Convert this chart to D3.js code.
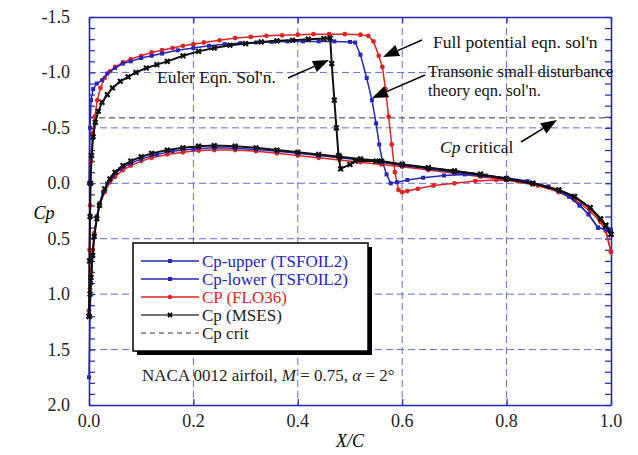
<!DOCTYPE html>
<html>
<head>
<meta charset="utf-8">
<script src="https://cdn.jsdelivr.net/npm/d3@7"></script>
<style>
  body { margin: 0; background: #fff; }
  text { font-family: "Liberation Serif", "Times New Roman", serif; }
</style>
</head>
<body>
<script>
const w = 638;
const h = 455;

// axis ticks
const xTicks = [0.0, 0.2, 0.4, 0.6, 0.8, 1.0];
const yTicks = [-1.5, -1.0, -0.5, 0.0, 0.5, 1.0, 1.5, 2.0];
const cpCrit = -0.59;

// TSFOIL2 upper surface [x/c, Cp]
const tsUpper = [[0.0, 0.0], [0.002, -0.5], [0.004, -0.75], [0.008, -0.85], [0.015, -0.9], [0.025, -0.93],
  [0.035, -0.99], [0.05, -1.04], [0.065, -1.08], [0.08, -1.1], [0.1, -1.13], [0.12, -1.15], [0.14, -1.17],
  [0.17, -1.2], [0.2, -1.22], [0.23, -1.24], [0.26, -1.255], [0.29, -1.265], [0.32, -1.27], [0.35, -1.275],
  [0.38, -1.28], [0.41, -1.28], [0.44, -1.28], [0.47, -1.28], [0.5, -1.275], [0.51, -1.27], [0.52, -1.16],
  [0.532, -0.95], [0.542, -0.75], [0.55, -0.54], [0.556, -0.35], [0.562, -0.2], [0.57, -0.08], [0.578, 0.0],
  [0.59, -0.01], [0.61, -0.03], [0.64, -0.05], [0.68, -0.07], [0.72, -0.08], [0.76, -0.07], [0.8, -0.05],
  [0.84, -0.02], [0.88, 0.03], [0.92, 0.12], [0.94, 0.2], [0.957, 0.28], [0.975, 0.4], [0.992, 0.42], [1.0, 0.42]];

// TSFOIL2 lower surface
const tsLower = [[0.0, 1.75], [0.002, 1.2], [0.004, 0.9], [0.007, 0.65], [0.01, 0.48], [0.015, 0.3],
  [0.02, 0.18], [0.027, 0.08], [0.035, 0.0], [0.045, -0.06], [0.06, -0.13], [0.08, -0.18], [0.1, -0.22],
  [0.13, -0.26], [0.16, -0.29], [0.2, -0.31], [0.24, -0.32], [0.28, -0.315], [0.32, -0.305], [0.36, -0.29],
  [0.4, -0.27], [0.44, -0.25], [0.48, -0.23], [0.52, -0.21], [0.56, -0.19], [0.6, -0.16], [0.65, -0.13],
  [0.7, -0.1], [0.75, -0.07], [0.8, -0.04], [0.84, -0.01], [0.88, 0.03], [0.92, 0.12], [0.94, 0.2],
  [0.957, 0.28], [0.975, 0.4], [0.992, 0.42], [1.0, 0.42]];

// FLO36 upper and lower
const floUpper = [[0.0, 1.15], [0.001, 0.6], [0.002, 0.2], [0.004, -0.2], [0.007, -0.45], [0.011, -0.6],
  [0.016, -0.75], [0.022, -0.86], [0.03, -0.95], [0.04, -1.01], [0.05, -1.05], [0.065, -1.09], [0.08, -1.12],
  [0.1, -1.15], [0.12, -1.18], [0.14, -1.2], [0.16, -1.22], [0.18, -1.24], [0.2, -1.255], [0.22, -1.27],
  [0.25, -1.29], [0.28, -1.31], [0.31, -1.32], [0.34, -1.33], [0.37, -1.335], [0.4, -1.34], [0.43, -1.345],
  [0.46, -1.345], [0.49, -1.345], [0.52, -1.34], [0.535, -1.33], [0.545, -1.28], [0.555, -1.15],
  [0.562, -1.05], [0.568, -0.85], [0.574, -0.6], [0.58, -0.35], [0.586, -0.1], [0.593, 0.06], [0.6, 0.08],
  [0.61, 0.07], [0.63, 0.05], [0.66, 0.02], [0.7, 0.0], [0.74, -0.02], [0.78, -0.03], [0.82, -0.02],
  [0.86, 0.02], [0.9, 0.08], [0.93, 0.15], [0.96, 0.25], [0.98, 0.35], [0.99, 0.43], [1.0, 0.62]];

const floLower = [[0.0, 1.15], [0.002, 0.95], [0.004, 0.8], [0.007, 0.6], [0.01, 0.45], [0.015, 0.3],
  [0.02, 0.2], [0.03, 0.08], [0.04, -0.01], [0.05, -0.06], [0.065, -0.12], [0.08, -0.16], [0.1, -0.2],
  [0.12, -0.23], [0.15, -0.26], [0.18, -0.28], [0.21, -0.295], [0.24, -0.3], [0.28, -0.3], [0.32, -0.29],
  [0.36, -0.27], [0.4, -0.25], [0.44, -0.23], [0.48, -0.21], [0.52, -0.19], [0.56, -0.17], [0.6, -0.15],
  [0.65, -0.12], [0.7, -0.09], [0.75, -0.06], [0.8, -0.03], [0.85, 0.01], [0.9, 0.07], [0.93, 0.13],
  [0.96, 0.23], [0.98, 0.33], [0.99, 0.42], [1.0, 0.62]];

// MSES upper and lower
const msesUpper = [[0.0, 1.2], [0.001, 0.7], [0.002, 0.3], [0.003, 0.0], [0.005, -0.25], [0.008, -0.42],
  [0.012, -0.55], [0.018, -0.65], [0.025, -0.73], [0.035, -0.8], [0.045, -0.86], [0.06, -0.92], [0.075, -0.96],
  [0.09, -1.0], [0.11, -1.04], [0.13, -1.07], [0.15, -1.1], [0.18, -1.15], [0.21, -1.19], [0.24, -1.22],
  [0.27, -1.245], [0.3, -1.26], [0.33, -1.275], [0.36, -1.285], [0.39, -1.29], [0.42, -1.3], [0.45, -1.305],
  [0.462, -1.31], [0.465, -1.08], [0.47, -0.75], [0.474, -0.5], [0.478, -0.25], [0.482, -0.13], [0.5, -0.17],
  [0.51, -0.2], [0.55, -0.2], [0.6, -0.17], [0.65, -0.14], [0.7, -0.11], [0.75, -0.08], [0.8, -0.04],
  [0.85, 0.0], [0.9, 0.06], [0.93, 0.12], [0.96, 0.22], [0.98, 0.32], [0.99, 0.38], [1.0, 0.46]];

const msesLower = [[0.0, 1.2], [0.002, 1.0], [0.004, 0.85], [0.007, 0.65], [0.01, 0.48], [0.015, 0.32],
  [0.02, 0.2], [0.03, 0.05], [0.04, -0.04], [0.05, -0.1], [0.065, -0.16], [0.08, -0.2], [0.1, -0.24],
  [0.12, -0.27], [0.15, -0.3], [0.18, -0.32], [0.21, -0.335], [0.24, -0.34], [0.28, -0.335], [0.32, -0.32],
  [0.36, -0.3], [0.4, -0.28], [0.44, -0.26], [0.48, -0.24], [0.52, -0.22], [0.56, -0.2], [0.6, -0.17],
  [0.65, -0.14], [0.7, -0.11], [0.75, -0.08], [0.8, -0.04], [0.85, 0.0], [0.9, 0.06], [0.93, 0.12],
  [0.96, 0.22], [0.98, 0.32], [0.99, 0.38], [1.0, 0.46]];

const legendLabels = ["Cp-upper (TSFOIL2)", "Cp-lower (TSFOIL2)", "CP (FLO36)", "Cp (MSES)", "Cp crit"];

const blue = "#2626b8";
const red = "#e02424";
const dark = "#111";
const gridCol = "#6a6ad0";

const svg = d3.select("body").append("svg").attr("width", w).attr("height", h);

const x = d3.scaleLinear().domain([0, 1]).range([89, 611]);
const y = d3.scaleLinear().domain([-1.5, 2.0]).range([17, 405]);

// grid lines
svg.append("g").selectAll("line")
  .data(yTicks.slice(1, -1))
  .enter().append("line")
  .attr("x1", x(0)).attr("x2", x(1))
  .attr("y1", d => y(d)).attr("y2", d => y(d))
  .attr("stroke", gridCol).attr("stroke-width", 1).attr("stroke-dasharray", "7,4");

svg.append("g").selectAll("line")
  .data(xTicks.slice(1, -1))
  .enter().append("line")
  .attr("y1", y(-1.5)).attr("y2", y(2.0))
  .attr("x1", d => x(d)).attr("x2", d => x(d))
  .attr("stroke", gridCol).attr("stroke-width", 1).attr("stroke-dasharray", "7,4");

// Cp critical
svg.append("line")
  .attr("x1", x(0)).attr("x2", x(1))
  .attr("y1", y(cpCrit)).attr("y2", y(cpCrit))
  .attr("stroke", "#333").attr("stroke-width", 1).attr("stroke-dasharray", "6,4");

// axes
const minorY = d3.range(-15, 21).map(d => d / 10);
const yAxis = d3.axisLeft(y).tickValues(minorY).tickSizeInner(-6).tickSizeOuter(0).tickFormat("");
const yAxisR = d3.axisRight(y).tickValues(minorY).tickSizeInner(-6).tickSizeOuter(0).tickFormat("");
const xAxis = d3.axisBottom(x).tickValues(xTicks).tickSizeInner(-6).tickSizeOuter(0).tickFormat("");
const xAxisT = d3.axisTop(x).tickValues(xTicks).tickSizeInner(-6).tickSizeOuter(0).tickFormat("");

[[yAxis, "translate(" + x(0) + ",0)"], [yAxisR, "translate(" + x(1) + ",0)"],
 [xAxis, "translate(0," + y(2.0) + ")"], [xAxisT, "translate(0," + y(-1.5) + ")"]].forEach(a => {
  const g = svg.append("g").attr("transform", a[1]).call(a[0]);
  g.select(".domain").attr("stroke", blue).attr("stroke-width", 1.6);
  g.selectAll(".tick line").attr("stroke", blue).attr("stroke-width", 1.2);
});

// tick labels
svg.append("g").selectAll("text")
  .data(yTicks)
  .enter().append("text")
  .attr("x", 70).attr("y", d => y(d)).attr("dy", "0.33em")
  .attr("text-anchor", "end").style("font-size", "18px").attr("fill", "#222")
  .text(d => d3.format(".1f")(d).replace("−", "-"));

svg.append("g").selectAll("text")
  .data(xTicks)
  .enter().append("text")
  .attr("x", d => x(d)).attr("y", 427)
  .attr("text-anchor", "middle").style("font-size", "18px").attr("fill", "#222")
  .text(d => d.toFixed(1));

svg.append("text").attr("x", x(0.5)).attr("y", 447).attr("text-anchor", "middle")
  .style("font-size", "18px").style("font-style", "italic").text("X/C");
svg.append("text").attr("x", 44).attr("y", 219).attr("text-anchor", "middle")
  .style("font-size", "18px").style("font-style", "italic").text("Cp");

// series
const line = d3.line().x(d => x(d[0])).y(d => y(d[1]));

function drawSeries(data, color, marker, sw) {
  svg.append("path").datum(data).attr("d", line)
    .attr("fill", "none").attr("stroke", color).attr("stroke-width", sw);
  const g = svg.append("g");
  data.forEach(d => {
    if (marker === "circle") {
      g.append("circle").attr("cx", x(d[0])).attr("cy", y(d[1])).attr("r", 2.4).attr("fill", color);
    } else if (marker === "square") {
      g.append("rect").attr("x", x(d[0]) - 2).attr("y", y(d[1]) - 2).attr("width", 4).attr("height", 4).attr("fill", color);
    } else {
      g.append("path").attr("d", d3.symbol(d3.symbolCross, 24)())
        .attr("transform", "translate(" + x(d[0]) + "," + y(d[1]) + ") rotate(45)").attr("fill", color);
    }
  });
}

drawSeries(floUpper, red, "circle", 1.5);
drawSeries(floLower, red, "circle", 1.5);
drawSeries(tsUpper, blue, "square", 1.5);
drawSeries(tsLower, blue, "square", 1.5);
drawSeries(msesUpper, dark, "cross", 2);
drawSeries(msesLower, dark, "cross", 2);

// legend
const lg = svg.append("g");
lg.append("rect").attr("x", 137).attr("y", 247).attr("width", 235).attr("height", 108).attr("fill", "#000");
lg.append("rect").attr("x", 133).attr("y", 243).attr("width", 235).attr("height", 108)
  .attr("fill", "#fff").attr("stroke", "#000").attr("stroke-width", 1.5);
const legColors = [blue, blue, red, "#444", "#333"];
const legMarks = ["square", "square", "circle", "cross", "none"];
legendLabels.forEach((t, i) => {
  const yy = 261 + i * 18;
  lg.append("line").attr("x1", 141).attr("x2", 199).attr("y1", yy).attr("y2", yy)
    .attr("stroke", legColors[i]).attr("stroke-width", i === 4 ? 1 : 1.5)
    .attr("stroke-dasharray", i === 4 ? "5,4" : null);
  if (legMarks[i] === "square") lg.append("rect").attr("x", 168).attr("y", yy - 2).attr("width", 4).attr("height", 4).attr("fill", legColors[i]);
  if (legMarks[i] === "circle") lg.append("circle").attr("cx", 170).attr("cy", yy).attr("r", 2.2).attr("fill", legColors[i]);
  if (legMarks[i] === "cross") lg.append("path").attr("d", d3.symbol(d3.symbolCross, 18)())
    .attr("transform", "translate(170," + yy + ") rotate(45)").attr("fill", "#000");
  lg.append("text").attr("x", 202).attr("y", yy).attr("dy", "0.33em")
    .style("font-size", "17px").attr("fill", i < 2 ? blue : (i === 2 ? red : "#222")).text(t);
});

// caption
const cap = svg.append("text").attr("x", 142).attr("y", 381).style("font-size", "17px").attr("fill", "#222");
cap.append("tspan").text("NACA 0012 airfoil, ");
cap.append("tspan").style("font-style", "italic").text("M");
cap.append("tspan").text(" = 0.75, ");
cap.append("tspan").style("font-style", "italic").text("α");
cap.append("tspan").text(" = 2°");

// annotations
function arrow(x1, y1, x2, y2) {
  const ang = Math.atan2(y2 - y1, x2 - x1);
  const L = 16, W = 6;
  const bx = x2 - L * Math.cos(ang), by = y2 - L * Math.sin(ang);
  svg.append("line").attr("x1", x1).attr("y1", y1).attr("x2", bx).attr("y2", by)
    .attr("stroke", "#000").attr("stroke-width", 1.5);
  svg.append("path")
    .attr("d", "M" + x2 + "," + y2 + "L" + (bx - W * Math.sin(ang)) + "," + (by + W * Math.cos(ang)) +
      "L" + (bx + W * Math.sin(ang)) + "," + (by - W * Math.cos(ang)) + "Z")
    .attr("fill", "#000");
}

svg.append("text").attr("x", 433).attr("y", 48).style("font-size", "17.5px").attr("fill", "#111").text("Full potential eqn. sol'n");
arrow(422, 40, 383, 57);
svg.append("text").attr("x", 428).attr("y", 77).style("font-size", "16.5px").attr("fill", "#111").text("Transonic small disturbance");
svg.append("text").attr("x", 428).attr("y", 96).style("font-size", "16.5px").attr("fill", "#111").text("theory eqn. sol'n.");
arrow(425, 75, 372, 98);
const cpc = svg.append("text").attr("x", 440).attr("y", 153).style("font-size", "17.5px").attr("fill", "#111");
cpc.append("tspan").style("font-style", "italic").text("Cp");
cpc.append("tspan").text(" critical");
arrow(521, 142, 557, 120);
svg.append("text").attr("x", 157).attr("y", 83).style("font-size", "17.5px").attr("fill", "#111").text("Euler Eqn. Sol'n.");
arrow(288, 78, 329, 60);
</script>
</body>
</html>
